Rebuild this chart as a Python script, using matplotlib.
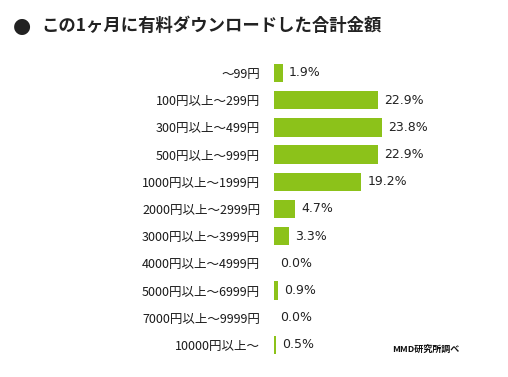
import matplotlib
matplotlib.use('Agg')
import matplotlib.pyplot as plt

plt.rcParams['font.family'] = ['Noto Sans CJK JP', 'DejaVu Sans']

# データ
categories = ['～99円', '100円以上～299円', '300円以上～499円', '500円以上～999円',
              '1000円以上～1999円', '2000円以上～2999円', '3000円以上～3999円',
              '4000円以上～4999円', '5000円以上～6999円', '7000円以上～9999円',
              '10000円以上～']
values = [1.9, 22.9, 23.8, 22.9, 19.2, 4.7, 3.3, 0.0, 0.9, 0.0, 0.5]

title = 'この1ヶ月に有料ダウンロードした合計金額'
source = 'MMD研究所調べ'
bar_color = '#8cc21a'

W, H = 508, 377
fig = plt.figure(figsize=(W / 100, H / 100), dpi=100)

# 軸の位置（ピクセルから換算）
px_per_pct = 4.54
xmax = 50
left, row_h = 274, 27.2
top = 73 - row_h / 2
bottom = top + row_h * len(categories)
ax = fig.add_axes([left / W, 1 - bottom / H, px_per_pct * xmax / W, (bottom - top) / H])

y = range(len(categories))
ax.barh(y, values, height=0.68, color=bar_color)
ax.set_xlim(0, xmax)
ax.set_ylim(len(categories) - 0.5, -0.5)

ax.set_yticks(list(y))
ax.set_yticklabels(categories, fontsize=9, color='#1a1a1a')
ax.tick_params(axis='y', length=0, pad=10)
ax.set_xticks([])
for s in ax.spines.values():
    s.set_visible(False)

# 値ラベル
for i, v in enumerate(values):
    ax.annotate(f'{v:.1f}%', (v, i), xytext=(4.5, 0), textcoords='offset points',
                va='center', ha='left', fontsize=9, color='#222222',
                family=['DejaVu Sans'])

# タイトル
fig.text(13 / W, 1 - 26 / H, '●', fontsize=15, va='center', ha='left',
         family=['DejaVu Sans'], color='#222222')
fig.text(41 / W, 1 - 26 / H, title, fontsize=12.5, va='center', ha='left',
         fontweight='bold', color='#222222')

fig.text(392 / W, 1 - 349 / H, source, fontsize=6.5, va='center', ha='left',
         fontweight='bold', color='#111111')

fig.savefig('out.png', dpi=100)
